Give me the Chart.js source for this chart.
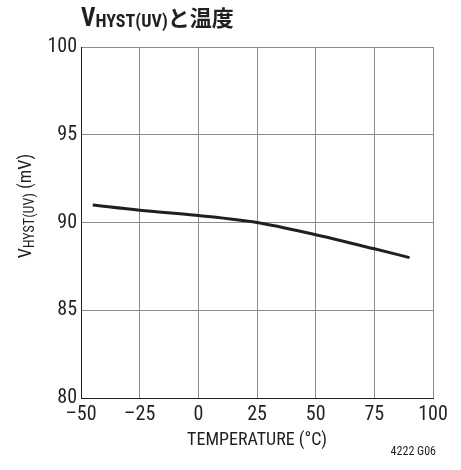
<!DOCTYPE html>
<html>
<head>
<meta charset="utf-8">
<script src="https://cdn.jsdelivr.net/npm/chart.js@4"></script>
<style>
  html, body { margin: 0; padding: 0; background: #fff; }
  #wrap { position: relative; width: 461px; height: 470px; }
</style>
</head>
<body>
<div id="wrap"><canvas id="c" width="461" height="470"></canvas></div>
<script>
// Hysteresis voltage vs. temperature
const temperatures = [-45, -25, 0, 25, 50, 75, 90];        // °C
const vhystValues  = [91.0, 90.7, 90.4, 90.0, 89.3, 88.5, 88.0]; // mV
const xTicks = [-50, -25, 0, 25, 50, 75, 100];
const yTicks = [80, 85, 90, 95, 100];

const FONT = '"Liberation Sans Narrow", "Roboto Condensed", "DejaVu Sans Condensed", sans-serif';
const CJK = '"Noto Sans CJK JP", sans-serif';
const INK = '#231f20';

// Title, axis titles (y with subscript) and the figure code
const annotations = {
  id: 'annotations',
  afterDraw(chart) {
    const ctx = chart.ctx;
    ctx.save();
    ctx.fillStyle = INK;
    ctx.textBaseline = 'alphabetic';
    ctx.textAlign = 'left';

    // Title: V_HYST(UV)と温度
    let x = 81;
    ctx.font = 'bold 25px ' + FONT;
    ctx.fillText('V', x, 26);
    x += ctx.measureText('V').width;
    ctx.font = 'bold 18px ' + FONT;
    ctx.fillText('HYST(UV)', x, 27);
    x += ctx.measureText('HYST(UV)').width;
    ctx.font = 'bold 22px ' + CJK;
    ctx.fillText('と温度', x, 26);

    // X-axis title
    ctx.textAlign = 'center';
    ctx.textBaseline = 'middle';
    ctx.font = '18px ' + FONT;
    ctx.fillText('TEMPERATURE (°C)', (chart.chartArea.left + chart.chartArea.right) / 2, 440);

    // Y-axis title
    ctx.textAlign = 'left';
    ctx.textBaseline = 'alphabetic';
    ctx.translate(31, 206);
    ctx.rotate(-Math.PI / 2);
    const big = '18px ' + FONT, small = '14px ' + FONT;
    ctx.font = big; const w1 = ctx.measureText('V').width;
    ctx.font = small; const w2 = ctx.measureText('HYST(UV)').width;
    ctx.font = big; const w3 = ctx.measureText(' (mV)').width;
    let lx = -(w1 + w2 + w3) / 2;
    ctx.font = big; ctx.fillText('V', lx, 0); lx += w1;
    ctx.font = small; ctx.fillText('HYST(UV)', lx, 3); lx += w2;
    ctx.font = big; ctx.fillText(' (mV)', lx, 0);
    ctx.restore();

    ctx.save();
    ctx.fillStyle = INK;
    ctx.font = '12px ' + FONT;
    ctx.textAlign = 'right';
    ctx.textBaseline = 'middle';
    ctx.fillText('4222 G06', 436, 452);
    ctx.restore();
  }
};

new Chart(document.getElementById('c'), {
  type: 'line',
  data: {
    datasets: [{
      data: temperatures.map((t, i) => ({ x: t, y: vhystValues[i] })),
      borderColor: INK,
      borderWidth: 3,
      pointRadius: 0,
      cubicInterpolationMode: 'monotone',
      fill: false
    }]
  },
  options: {
    responsive: false,
    animation: false,
    devicePixelRatio: 1,
    layout: { padding: { top: 47, right: 28, left: 0, bottom: 0 } },
    plugins: { legend: { display: false }, tooltip: { enabled: false } },
    scales: {
      x: {
        type: 'linear',
        min: -50, max: 100,
        afterBuildTicks(axis) { axis.ticks = xTicks.map(v => ({ value: v })); },
        afterFit(axis) { axis.height = 72; },
        ticks: {
          color: INK,
          font: { family: FONT, size: 20 },
          padding: 5,
          maxRotation: 0,
          callback: v => String(v).replace('-', '\u2013')
        },
        grid: { color: '#8c8c8c', lineWidth: 1, drawTicks: false },
        border: { color: INK, width: 1 }
      },
      y: {
        min: 80, max: 100,
        afterBuildTicks(axis) { axis.ticks = yTicks.map(v => ({ value: v })); },
        afterFit(axis) { axis.width = 81; },
        ticks: {
          color: INK,
          font: { family: FONT, size: 20 },
          padding: 4
        },
        grid: { color: '#8c8c8c', lineWidth: 1, drawTicks: false },
        border: { color: INK, width: 1 }
      }
    }
  },
  plugins: [annotations]
});
</script>
</body>
</html>
